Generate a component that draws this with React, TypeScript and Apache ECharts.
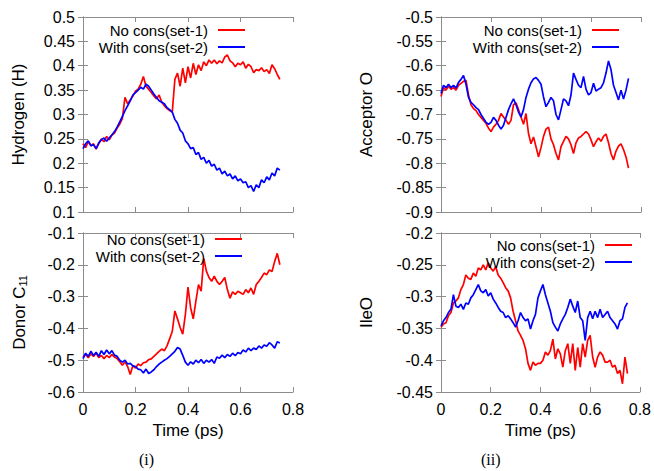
import React, { useEffect, useRef } from 'react';
import * as echarts from 'echarts';

const TIME = [
  0.0, 0.01, 0.02, 0.03, 0.04, 0.05, 0.06, 0.07, 0.08, 0.09,
  0.1, 0.11, 0.12, 0.13, 0.14, 0.15, 0.16, 0.17, 0.18, 0.19,
  0.2, 0.21, 0.22, 0.23, 0.24, 0.25, 0.26, 0.27, 0.28, 0.29,
  0.3, 0.31, 0.32, 0.33, 0.34, 0.35, 0.36, 0.37, 0.38, 0.39,
  0.4, 0.41, 0.42, 0.43, 0.44, 0.45, 0.46, 0.47, 0.48, 0.49,
  0.5, 0.51, 0.52, 0.53, 0.54, 0.55, 0.56, 0.57, 0.58, 0.59,
  0.6, 0.61, 0.62, 0.63, 0.64, 0.65, 0.66, 0.67, 0.68, 0.69,
  0.7, 0.71, 0.72, 0.73, 0.74, 0.75,
];

const NAME_RED = 'No cons(set-1)';
const NAME_BLUE = 'With cons(set-2)';

const H_NOCONS = [
  0.240, 0.232, 0.245, 0.236, 0.240, 0.229, 0.240, 0.250, 0.244, 0.255,
  0.248, 0.258, 0.262, 0.272, 0.280, 0.292, 0.335, 0.322, 0.330, 0.338,
  0.348, 0.352, 0.362, 0.378, 0.358, 0.352, 0.345, 0.338, 0.332, 0.340,
  0.325, 0.318, 0.312, 0.308, 0.305, 0.372, 0.385, 0.358, 0.395, 0.365,
  0.398, 0.375, 0.405, 0.382, 0.402, 0.390, 0.408, 0.400, 0.412, 0.405,
  0.412, 0.404, 0.410, 0.406, 0.418, 0.422, 0.410, 0.406, 0.398, 0.405,
  0.402, 0.408, 0.395, 0.403, 0.398, 0.386, 0.392, 0.390, 0.396, 0.388,
  0.392, 0.384, 0.402, 0.394, 0.382, 0.372,
];
const H_WITHCONS = [
  0.230, 0.240, 0.246, 0.236, 0.238, 0.230, 0.242, 0.248, 0.252, 0.245,
  0.252, 0.258, 0.265, 0.274, 0.285, 0.296, 0.308, 0.318, 0.328, 0.340,
  0.345, 0.350, 0.356, 0.352, 0.362, 0.358, 0.350, 0.342, 0.335, 0.328,
  0.325, 0.322, 0.314, 0.310, 0.305, 0.290, 0.282, 0.268, 0.262, 0.246,
  0.240, 0.230, 0.232, 0.218, 0.222, 0.208, 0.212, 0.200, 0.206, 0.194,
  0.198, 0.186, 0.190, 0.178, 0.184, 0.174, 0.178, 0.168, 0.174, 0.164,
  0.168, 0.160, 0.162, 0.150, 0.154, 0.142, 0.156, 0.150, 0.166, 0.160,
  0.172, 0.166, 0.180, 0.174, 0.190, 0.186,
];

const ACC_NOCONS = [
  -0.663, -0.645, -0.650, -0.642, -0.648, -0.645, -0.650, -0.640, -0.636, -0.632,
  -0.630, -0.660, -0.680, -0.688, -0.692, -0.700, -0.706, -0.712, -0.718, -0.728,
  -0.735, -0.726, -0.720, -0.712, -0.698, -0.705, -0.712, -0.720, -0.712, -0.680,
  -0.676, -0.690, -0.705, -0.720, -0.698, -0.739, -0.760, -0.746, -0.766, -0.787,
  -0.768, -0.745, -0.730, -0.726, -0.750, -0.762, -0.780, -0.793, -0.766, -0.755,
  -0.745, -0.750, -0.762, -0.780, -0.758, -0.748, -0.745, -0.740, -0.735, -0.740,
  -0.752, -0.766, -0.756, -0.748, -0.755, -0.745, -0.740, -0.758, -0.780, -0.793,
  -0.775, -0.765, -0.760, -0.772, -0.787, -0.810,
];
const ACC_WITHCONS = [
  -0.657, -0.640, -0.645, -0.638, -0.645, -0.640, -0.646, -0.634, -0.628, -0.620,
  -0.638, -0.665, -0.675, -0.680, -0.686, -0.690, -0.700, -0.708, -0.716, -0.720,
  -0.716, -0.706, -0.712, -0.722, -0.730, -0.722, -0.706, -0.690, -0.678, -0.668,
  -0.680, -0.695, -0.705, -0.690, -0.665, -0.648, -0.635, -0.627, -0.624, -0.630,
  -0.638, -0.664, -0.684, -0.675, -0.665, -0.672, -0.700, -0.711, -0.690, -0.668,
  -0.672, -0.682, -0.660, -0.615, -0.628, -0.640, -0.645, -0.622, -0.648, -0.660,
  -0.655, -0.636, -0.652, -0.648, -0.645, -0.635, -0.615, -0.590, -0.608, -0.640,
  -0.655, -0.670, -0.650, -0.668, -0.650, -0.626,
];

const DON_NOCONS = [
  -0.490, -0.482, -0.492, -0.480, -0.488, -0.478, -0.492, -0.485, -0.495, -0.485,
  -0.492, -0.482, -0.490, -0.495, -0.505, -0.516, -0.505, -0.520, -0.545, -0.517,
  -0.525, -0.512, -0.517, -0.508, -0.506, -0.498, -0.496, -0.488, -0.480, -0.472,
  -0.465, -0.470, -0.455, -0.433, -0.410, -0.345, -0.370, -0.397, -0.418, -0.356,
  -0.270, -0.335, -0.370, -0.314, -0.262, -0.283, -0.180, -0.220, -0.240, -0.252,
  -0.236, -0.252, -0.262, -0.252, -0.240, -0.278, -0.305, -0.285, -0.293, -0.283,
  -0.288, -0.293, -0.278, -0.288, -0.273, -0.293, -0.262, -0.252, -0.240, -0.226,
  -0.231, -0.216, -0.221, -0.190, -0.164, -0.200,
];
const DON_WITHCONS = [
  -0.495, -0.478, -0.488, -0.472, -0.485, -0.475, -0.488, -0.470, -0.482, -0.468,
  -0.480, -0.470, -0.484, -0.488, -0.500, -0.506, -0.500, -0.512, -0.510, -0.518,
  -0.520, -0.528, -0.530, -0.540, -0.528, -0.542, -0.537, -0.530, -0.520, -0.512,
  -0.506, -0.500, -0.495, -0.488, -0.480, -0.472, -0.460, -0.465, -0.485, -0.506,
  -0.516, -0.505, -0.512, -0.500, -0.508, -0.498, -0.510, -0.500, -0.506, -0.498,
  -0.510, -0.490, -0.494, -0.484, -0.492, -0.482, -0.488, -0.478, -0.486, -0.476,
  -0.480, -0.468, -0.474, -0.462, -0.470, -0.462, -0.466, -0.455, -0.462, -0.452,
  -0.456, -0.445, -0.452, -0.462, -0.442, -0.446,
];

const ILE_NOCONS = [
  -0.348, -0.343, -0.341, -0.330, -0.325, -0.310, -0.307, -0.302, -0.289, -0.281,
  -0.266, -0.271, -0.273, -0.263, -0.268, -0.255, -0.258, -0.250, -0.258, -0.247,
  -0.255, -0.260, -0.253, -0.266, -0.271, -0.278, -0.286, -0.291, -0.302, -0.323,
  -0.338, -0.354, -0.361, -0.369, -0.382, -0.405, -0.416, -0.403, -0.408, -0.405,
  -0.405, -0.400, -0.387, -0.392, -0.385, -0.367, -0.398, -0.382, -0.390, -0.411,
  -0.385, -0.374, -0.405, -0.374, -0.416, -0.380, -0.411, -0.374, -0.395, -0.369,
  -0.361, -0.395, -0.411, -0.395, -0.387, -0.392, -0.403, -0.403, -0.400, -0.411,
  -0.408, -0.421, -0.416, -0.437, -0.395, -0.421,
];
const ILE_WITHCONS = [
  -0.346, -0.338, -0.333, -0.325, -0.320, -0.297, -0.315, -0.317, -0.312, -0.320,
  -0.310, -0.312, -0.302, -0.297, -0.289, -0.281, -0.291, -0.294, -0.289, -0.299,
  -0.294, -0.304, -0.310, -0.317, -0.323, -0.325, -0.333, -0.330, -0.335, -0.341,
  -0.348, -0.338, -0.325, -0.333, -0.338, -0.335, -0.351, -0.338, -0.328, -0.302,
  -0.291, -0.281, -0.297, -0.310, -0.323, -0.341, -0.348, -0.354, -0.343, -0.335,
  -0.328, -0.317, -0.304, -0.315, -0.325, -0.307, -0.333, -0.338, -0.369, -0.333,
  -0.323, -0.335, -0.323, -0.333, -0.320, -0.333, -0.328, -0.323, -0.333, -0.338,
  -0.343, -0.351, -0.338, -0.335, -0.317, -0.310,
];

const X_MIN = 0;
const X_MAX = 0.8;
const X_STEP = 0.2;

const SANS = "'Liberation Sans', Arial, Helvetica, sans-serif";
const SERIF = "'Liberation Serif', 'Times New Roman', serif";
const BOX = '#8c8c8c';

const PANELS = [
  {
    grid: { left: 83, top: 17, width: 210, height: 195 },
    yMin: 0.1, yMax: 0.5, yStep: 0.05,
    yName: 'Hydrogen (H)', yGap: 56, rich: false,
    red: H_NOCONS, blue: H_WITHCONS, xLabels: false,
    legend: { right: 409, top: 21.5 },
  },
  {
    grid: { left: 441, top: 17, width: 200, height: 195 },
    yMin: -0.9, yMax: -0.5, yStep: 0.05,
    yName: 'Acceptor O', yGap: 66, rich: false,
    red: ACC_NOCONS, blue: ACC_WITHCONS, xLabels: false,
    legend: { right: 35, top: 21.5 },
  },
  {
    grid: { left: 83, top: 233, width: 210, height: 159 },
    yMin: -0.6, yMax: -0.1, yStep: 0.1,
    yName: '{a|Donor C}{b|11}', yGap: 55, rich: true,
    red: DON_NOCONS, blue: DON_WITHCONS, xLabels: true,
    legend: { right: 412, top: 230.5 },
  },
  {
    grid: { left: 441, top: 233, width: 200, height: 159 },
    yMin: -0.45, yMax: -0.2, yStep: 0.05,
    yName: 'IleO', yGap: 66, rich: false,
    red: ILE_NOCONS, blue: ILE_WITHCONS, xLabels: true,
    legend: { right: 22, top: 236.5 },
  },
];

const fmt = (v: number) => String(Math.round(v * 100) / 100);

function pairs(vals: number[]) {
  return TIME.map((t, i) => [t, vals[i]]);
}

export default function App() {
  const ref = useRef<HTMLDivElement>(null);
  useEffect(() => {
    if (!ref.current) return;
    const chart = echarts.init(ref.current, undefined, { renderer: 'svg' });

    const axisLine = { show: true, lineStyle: { color: BOX, width: 1 } };
    const axisTick = { show: true, inside: true, length: 5, lineStyle: { color: BOX, width: 1 } };

    const xAxis: any[] = [];
    const yAxis: any[] = [];
    const series: any[] = [];
    const legend: any[] = [];

    PANELS.forEach((p, k) => {
      xAxis.push({
        type: 'value', gridIndex: k, position: 'bottom',
        min: X_MIN, max: X_MAX, interval: X_STEP,
        axisLine, axisTick, splitLine: { show: false },
        axisLabel: { show: p.xLabels, fontSize: 16, fontFamily: SANS, color: '#000', margin: 9, formatter: fmt },
        name: p.xLabels ? 'Time (ps)' : '', nameLocation: 'middle', nameGap: 30,
        nameTextStyle: { fontSize: 17, fontFamily: SANS, color: '#000' },
      });
      yAxis.push({
        type: 'value', gridIndex: k, position: 'left',
        min: p.yMin, max: p.yMax, interval: p.yStep,
        axisLine, axisTick, splitLine: { show: false },
        axisLabel: { fontSize: 16, fontFamily: SANS, color: '#000', margin: 8, formatter: fmt },
        name: p.yName, nameLocation: 'middle', nameGap: p.yGap,
        nameTextStyle: p.rich
          ? {
              fontSize: 17, fontFamily: SANS, color: '#000',
              rich: {
                a: { fontSize: 17, fontFamily: SANS, color: '#000', lineHeight: 17, verticalAlign: 'top' },
                b: { fontSize: 11, fontFamily: SANS, color: '#000', lineHeight: 11, padding: [13, 0, 0, 0], verticalAlign: 'bottom' },
              },
            }
          : { fontSize: 17, fontFamily: SANS, color: '#000' },
      });
      series.push({
        type: 'line', name: NAME_RED, xAxisIndex: k, yAxisIndex: k,
        data: pairs(p.red), showSymbol: false, symbol: 'none',
        lineStyle: { color: '#ff0000', width: 1.7 }, itemStyle: { color: '#ff0000' },
        z: 2,
      });
      series.push({
        type: 'line', name: NAME_BLUE, xAxisIndex: k, yAxisIndex: k,
        data: pairs(p.blue), showSymbol: false, symbol: 'none',
        lineStyle: { color: '#0000ff', width: 1.7 }, itemStyle: { color: '#0000ff' },
        z: 3,
      });
      legend.push({
        show: true, orient: 'vertical', align: 'right',
        right: p.legend.right, top: p.legend.top, padding: 0, itemGap: 0,
        itemWidth: 27, itemHeight: 2, icon: 'rect', selectedMode: false,
        data: [NAME_RED, NAME_BLUE],
        textStyle: { fontSize: 15, fontFamily: SANS, color: '#000', lineHeight: 17, padding: [0, 5, 0, 0] },
      });
    });

    // mirrored axes (top and right) for the box with inward ticks
    PANELS.forEach((p, k) => {
      xAxis.push({
        type: 'value', gridIndex: k, position: 'top',
        min: X_MIN, max: X_MAX, interval: X_STEP,
        axisLine, axisTick, splitLine: { show: false }, axisLabel: { show: false },
      });
      yAxis.push({
        type: 'value', gridIndex: k, position: 'right',
        min: p.yMin, max: p.yMax, interval: p.yStep,
        axisLine, axisTick, splitLine: { show: false }, axisLabel: { show: false },
      });
    });

    chart.setOption({
      animation: false,
      backgroundColor: '#ffffff',
      grid: PANELS.map((p) => ({ ...p.grid, containLabel: false })),
      xAxis,
      yAxis,
      series,
      legend,
      graphic: [
        { type: 'text', left: 139, top: 451, style: { text: '(i)', fontSize: 16, fontFamily: SERIF, fill: '#000' } },
        { type: 'text', left: 481, top: 451, style: { text: '(ii)', fontSize: 16, fontFamily: SERIF, fill: '#000' } },
      ],
    });
    return () => chart.dispose();
  }, []);
  return (
    <div
      ref={ref}
      style={{ position: 'absolute', left: 0, top: 0, width: 654, height: 471, background: '#fff' }}
    />
  );
}
